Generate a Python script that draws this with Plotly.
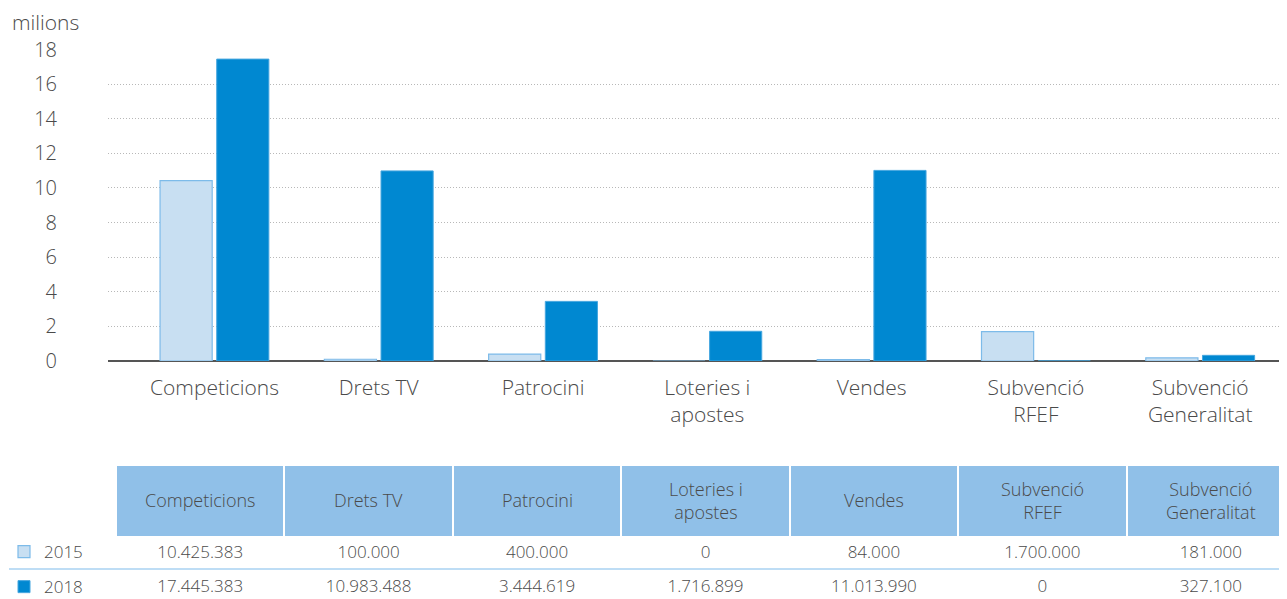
import plotly.graph_objects as go

categories = ["Competicions", "Drets TV", "Patrocini", "Loteries i apostes",
              "Vendes", "Subvenció RFEF", "Subvenció Generalitat"]
axis_labels = ["Competicions", "Drets TV", "Patrocini", "Loteries i<br>apostes",
               "Vendes", "Subvenció<br>RFEF", "Subvenció<br>Generalitat"]
years = ["2015", "2018"]
values_2015 = [10425383, 100000, 400000, 0, 84000, 1700000, 181000]
values_2018 = [17445383, 10983488, 3444619, 1716899, 11013990, 0, 327100]
y_ticks = [0, 2, 4, 6, 8, 10, 12, 14, 16, 18]

# the page body has an 8px margin: the figure starts at (8, 8) in the window
OFF = 8
W, H = 1287, 599
FONT = "Open Sans"
TXT = "#4a4a4a"
TABLE_X0 = 116  # window pixels
RIGHT = OFF + W  # right edge of the figure in window pixels


def px_x(px):
    return (px - OFF) / W


def px_y(py):
    return (H - (py - OFF)) / H


def fmt(v):
    return f"{v:,}".replace(",", ".")


fill_2015, line_2015 = "#c8dff2", "#7dbbe9"
fill_2018, line_2018 = "#0088d1", "#45a6df"

fig = go.Figure()
fig.add_trace(go.Bar(
    x=categories, y=[v / 1e6 for v in values_2015], name=years[0],
    marker=dict(color=fill_2015, line=dict(color=line_2015, width=1.2)),
    legendgroup="a", hoverinfo="skip"))
fig.add_trace(go.Bar(
    x=categories, y=[v / 1e6 for v in values_2018], name=years[1],
    marker=dict(color=fill_2018, line=dict(color=line_2018, width=1)),
    legendgroup="b", hoverinfo="skip"))

fig.add_trace(go.Table(
    domain=dict(x=[px_x(TABLE_X0), 1], y=[0, px_y(465)]),
    columnwidth=[1] * 7,
    header=dict(values=[""] * 7, fill_color="#90c0e8",
                line=dict(color="white", width=2),
                font=dict(family=FONT, size=17, color=TXT),
                align="center", height=72),
    cells=dict(values=[[fmt(a), fmt(b)] for a, b in zip(values_2015, values_2018)],
               fill_color="white", line=dict(color="white", width=1),
               font=dict(family=FONT, size=17, color=TXT, weight=300),
               align="center", height=34),
))

# header labels, centred in each table column
col_w = (RIGHT - TABLE_X0) / len(axis_labels)
annotations = [dict(text="milions", xref="paper", yref="paper",
                    x=px_x(10), y=px_y(22), xanchor="left", yanchor="middle",
                    showarrow=False,
                    font=dict(family=FONT, size=21, color=TXT, weight=300))]
for i, lab in enumerate(axis_labels):
    annotations.append(dict(
        text=lab, xref="paper", yref="paper",
        x=px_x(TABLE_X0 + col_w * (i + 0.5)), y=px_y(500),
        xanchor="center", yanchor="middle", showarrow=False, align="center",
        font=dict(family=FONT, size=18, color=TXT, weight=300)))

fig.update_layout(
    width=W, height=H,
    margin=dict(l=0, r=0, t=0, b=0, autoexpand=False),
    paper_bgcolor="white", plot_bgcolor="white",
    font=dict(family=FONT, color=TXT),
    barmode="group", bargap=0.31, bargroupgap=0.08,
    showlegend=True,
    legend=dict(x=px_x(4), y=px_y(534), xanchor="left", yanchor="top",
                font=dict(family=FONT, size=17, color=TXT, weight=300),
                tracegroupgap=10, bgcolor="rgba(0,0,0,0)"),
    xaxis=dict(domain=[px_x(108), 1], type="category",
               range=[-0.648, 6.577],
               tickmode="array", tickvals=categories, ticktext=axis_labels,
               tickfont=dict(family=FONT, size=21, color=TXT, weight=300),
               ticklabelstandoff=12,
               showgrid=False, ticks="", showline=False, zeroline=False),
    yaxis=dict(domain=[px_y(361), px_y(49.5)], range=[0, 18],
               tickmode="array", tickvals=y_ticks,
               tickfont=dict(family=FONT, size=20, color=TXT, weight=300),
               ticklabelstandoff=50,
               showgrid=True, gridcolor="#b8b8b8", griddash="1px,2px", gridwidth=1,
               zeroline=True, zerolinecolor="#555555", zerolinewidth=2,
               showline=False, ticks=""),
    shapes=[dict(type="line", xref="paper", yref="paper",
                 x0=px_x(9), x1=1, y0=px_y(569), y1=px_y(569),
                 line=dict(color="#a8d2f2", width=1.5))],
    annotations=annotations,
)

fig.write_html("out.html")
